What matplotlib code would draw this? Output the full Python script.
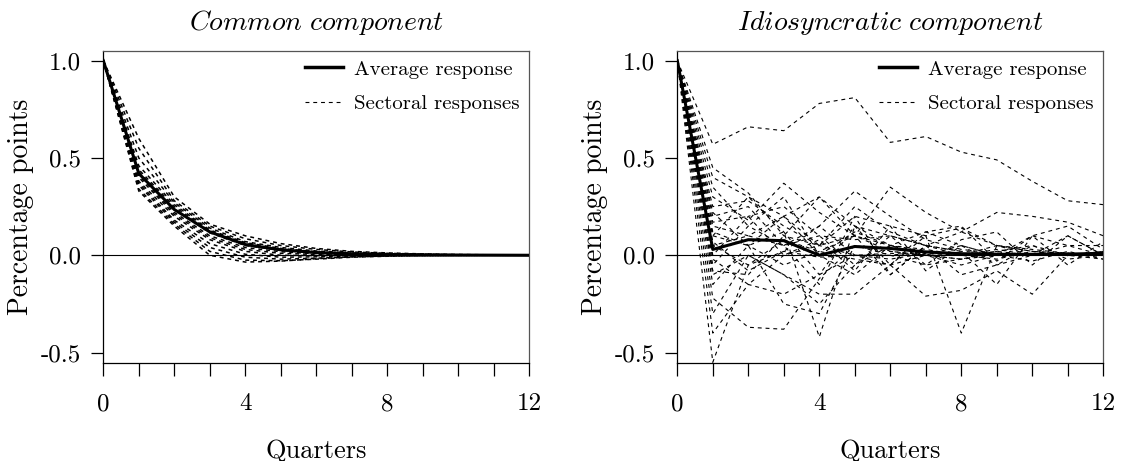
import matplotlib
matplotlib.use("Agg")
import matplotlib.pyplot as plt
from matplotlib.lines import Line2D

plt.rcParams['font.family'] = ['cmr10', 'DejaVu Serif']
plt.rcParams['mathtext.fontset'] = 'cm'
plt.rcParams['axes.unicode_minus'] = False
plt.rcParams['axes.formatter.use_mathtext'] = True

quarters = list(range(13))
x_tick_labels = ['0', '', '', '', '4', '', '', '', '8', '', '', '', '12']
y_ticks = [-0.5, 0.0, 0.5, 1.0]
y_tick_labels = ['-0.5', '0.0', '0.5', '1.0']

titles = ['Common component', 'Idiosyncratic component']
legend_labels = ['Average response', 'Sectoral responses']

# Common component
common_avg = [1.0, 0.42, 0.235, 0.12, 0.055, 0.028, 0.014, 0.007, 0.004, 0.002, 0.001, 0.0005, 0.0]
common_c1 = [1.0, 0.60, 0.30, 0.16, 0.10, 0.06, 0.035, 0.02, 0.012, 0.007, 0.004, 0.002, 0.001]
common_c2 = [1.0, 0.55, 0.28, 0.15, 0.085, 0.05, 0.03, 0.017, 0.01, 0.006, 0.003, 0.002, 0.001]
common_c3 = [1.0, 0.50, 0.27, 0.14, 0.07, 0.04, 0.022, 0.012, 0.007, 0.004, 0.002, 0.001, 0.0]
common_c4 = [1.0, 0.46, 0.26, 0.13, 0.065, 0.035, 0.018, 0.01, 0.005, 0.003, 0.002, 0.001, 0.0]
common_c5 = [1.0, 0.44, 0.25, 0.125, 0.06, 0.03, 0.015, 0.008, 0.004, 0.002, 0.001, 0.0, 0.0]
common_c6 = [1.0, 0.43, 0.24, 0.115, 0.05, 0.025, 0.012, 0.006, 0.003, 0.002, 0.001, 0.0, 0.0]
common_c7 = [1.0, 0.41, 0.22, 0.10, 0.04, 0.018, 0.008, 0.004, 0.002, 0.001, 0.0, 0.0, 0.0]
common_c8 = [1.0, 0.40, 0.21, 0.09, 0.03, 0.01, 0.004, 0.002, 0.001, 0.0, 0.0, 0.0, 0.0]
common_c9 = [1.0, 0.38, 0.20, 0.08, 0.02, 0.0, -0.002, -0.001, 0.0, 0.0, 0.0, 0.0, 0.0]
common_c10 = [1.0, 0.37, 0.18, 0.06, 0.005, -0.01, -0.008, -0.004, -0.002, -0.001, 0.0, 0.0, 0.0]
common_c11 = [1.0, 0.36, 0.17, 0.04, -0.01, -0.02, -0.015, -0.008, -0.004, -0.002, -0.001, 0.0, 0.0]
common_c12 = [1.0, 0.34, 0.16, 0.02, -0.025, -0.028, -0.02, -0.01, -0.005, -0.002, -0.001, 0.0, 0.0]
common_c13 = [1.0, 0.33, 0.15, 0.0, -0.035, -0.03, -0.018, -0.008, -0.003, -0.001, 0.0, 0.0, 0.0]
common_sectors = [common_c1, common_c2, common_c3, common_c4, common_c5, common_c6, common_c7,
                  common_c8, common_c9, common_c10, common_c11, common_c12, common_c13]

# Idiosyncratic component
idio_avg = [1.0, 0.03, 0.08, 0.075, 0.0, 0.045, 0.035, 0.017, 0.008, 0.005, 0.005, 0.006, 0.01]
idio_r1 = [1.0, 0.57, 0.66, 0.64, 0.78, 0.81, 0.58, 0.61, 0.53, 0.49, 0.38, 0.28, 0.26]
idio_r2 = [1.0, -0.22, -0.37, -0.38, -0.12, 0.05, 0.02, 0.0, -0.02, 0.01, 0.0, 0.01, 0.0]
idio_r3 = [1.0, -0.55, -0.05, 0.02, -0.01, 0.0, 0.01, 0.0, 0.0, 0.0, 0.0, 0.0, 0.0]
idio_r4 = [1.0, 0.10, 0.05, 0.12, -0.42, 0.15, 0.05, 0.03, 0.0, 0.02, 0.0, 0.01, 0.0]
idio_r5 = [1.0, 0.05, -0.05, 0.08, 0.02, -0.02, -0.05, 0.10, -0.40, 0.05, 0.02, 0.0, 0.01]
idio_r6 = [1.0, 0.30, 0.18, 0.37, 0.22, 0.10, 0.05, 0.02, 0.01, 0.0, 0.0, 0.0, 0.0]
idio_r7 = [1.0, 0.20, 0.25, 0.05, 0.15, 0.33, 0.20, 0.08, 0.03, 0.01, 0.0, 0.0, 0.0]
idio_r8 = [1.0, 0.15, 0.10, 0.20, 0.05, 0.10, 0.35, 0.22, 0.12, 0.05, 0.03, 0.01, 0.0]
idio_r9 = [1.0, 0.05, 0.10, 0.05, 0.10, 0.08, 0.10, 0.05, 0.12, 0.22, 0.20, 0.17, 0.10]
idio_r10 = [1.0, -0.10, 0.00, -0.10, -0.20, -0.20, -0.05, -0.21, -0.18, -0.08, -0.20, 0.0, 0.02]
idio_r11 = [1.0, 0.40, 0.30, 0.20, 0.30, 0.15, 0.10, 0.05, 0.02, 0.01, 0.0, 0.0, 0.0]
idio_r12 = [1.0, 0.45, 0.32, 0.10, 0.05, 0.20, 0.15, 0.10, 0.14, 0.05, 0.02, 0.01, 0.0]
idio_r13 = [1.0, 0.25, 0.28, 0.15, 0.05, 0.25, 0.12, 0.05, 0.0, 0.03, 0.0, 0.0, 0.0]
idio_r14 = [1.0, -0.30, 0.00, -0.10, -0.25, -0.05, 0.05, 0.0, -0.05, 0.0, 0.0, 0.0, 0.0]
idio_r15 = [1.0, -0.40, -0.15, -0.20, -0.10, 0.0, -0.02, 0.01, 0.0, 0.0, 0.0, 0.0, 0.0]
idio_r16 = [1.0, -0.15, 0.05, -0.25, -0.30, 0.05, 0.0, -0.05, -0.02, 0.0, 0.0, 0.0, 0.0]
idio_r17 = [1.0, 0.10, 0.30, 0.12, -0.10, 0.15, -0.05, 0.12, 0.05, -0.05, 0.0, 0.05, 0.0]
idio_r18 = [1.0, 0.00, 0.20, 0.25, 0.10, -0.05, 0.10, -0.05, 0.08, 0.12, -0.05, 0.10, 0.0]
idio_r19 = [1.0, 0.35, 0.15, 0.30, 0.0, -0.10, 0.05, 0.0, 0.0, -0.02, 0.02, 0.0, -0.02]
idio_r20 = [1.0, -0.05, 0.15, 0.05, -0.15, 0.20, -0.10, 0.05, -0.10, -0.05, 0.05, -0.02, 0.0]
idio_r21 = [1.0, 0.17, 0.20, 0.0, 0.08, -0.08, 0.15, -0.08, 0.05, 0.0, 0.10, 0.05, 0.05]
idio_r22 = [1.0, -0.08, -0.10, 0.10, 0.30, 0.10, -0.10, 0.05, 0.02, -0.15, 0.10, -0.05, 0.07]
idio_r23 = [1.0, 0.22, 0.05, 0.20, 0.0, 0.12, 0.05, 0.12, 0.15, -0.03, 0.10, 0.15, 0.03]
idio_r24 = [1.0, -0.02, -0.15, 0.0, 0.05, 0.0, 0.0, 0.02, 0.0, 0.05, 0.0, 0.10, 0.0]
idio_r25 = [1.0, 0.12, 0.05, -0.05, 0.02, 0.10, 0.02, 0.0, -0.02, 0.02, 0.05, 0.0, 0.02]
idio_r26 = [1.0, 0.07, -0.08, 0.02, 0.15, 0.0, -0.05, 0.0, 0.05, 0.0, -0.03, 0.02, -0.02]
idio_sectors = [idio_r1, idio_r2, idio_r3, idio_r4, idio_r5, idio_r6, idio_r7, idio_r8, idio_r9,
                idio_r10, idio_r11, idio_r12, idio_r13, idio_r14, idio_r15, idio_r16, idio_r17,
                idio_r18, idio_r19, idio_r20, idio_r21, idio_r22, idio_r23, idio_r24, idio_r25,
                idio_r26]

W, H = 1124, 461
fig = plt.figure(figsize=(W / 100, H / 100), dpi=100)
ax_w = 426 / W
ax_h = 312 / H
ax_b = (H - 362.7) / H
axes = [fig.add_axes([103.3 / W, ax_b, ax_w, ax_h]),
        fig.add_axes([677.3 / W, ax_b, ax_w, ax_h])]

panels = [(common_avg, common_sectors, 1.1), (idio_avg, idio_sectors, 0.8)]

for ax, title, (avg, sectors, slw) in zip(axes, titles, panels):
    ax.axhline(0, color='black', lw=0.8, zorder=1)
    for s in sectors:
        ax.plot(quarters, s, color='black', lw=slw, dashes=(3.5 * 0.8 / slw, 3.5 * 0.8 / slw), zorder=2)
    ax.plot(quarters, avg, color='black', lw=2.2, zorder=3)
    ax.set_xlim(0, 12)
    ax.set_ylim(-0.552, 1.051)
    ax.set_xticks(quarters)
    ax.set_xticklabels(x_tick_labels)
    ax.set_yticks(y_ticks)
    ax.set_yticklabels(y_tick_labels)
    ax.tick_params(axis='x', direction='out', length=9, width=0.9, pad=13, labelsize=18)
    ax.tick_params(axis='y', direction='out', length=9, width=0.9, pad=7, labelsize=18)
    for sp in ax.spines.values():
        sp.set_linewidth(0.9)
    ax.spines['top'].set_color('#555555')
    ax.spines['right'].set_color('#555555')
    ax.set_title(r'$\mathit{' + title.replace(' ', r'\ ') + '}$', fontsize=20, pad=15)
    ax.set_xlabel('Quarters', fontsize=19, labelpad=17)
    ax.set_ylabel('Percentage points', fontsize=20, labelpad=5)
    handles = [Line2D([], [], color='black', lw=2.5),
               Line2D([], [], color='black', lw=0.8, dashes=(3.5, 3.5))]
    ax.legend(handles, legend_labels, loc='upper right', frameon=False, fontsize=15,
              handlelength=1.8, handletextpad=0.55, labelspacing=0.75,
              borderaxespad=0.05, bbox_to_anchor=(1.0, 1.0))

fig.savefig('out.png', dpi=100)
